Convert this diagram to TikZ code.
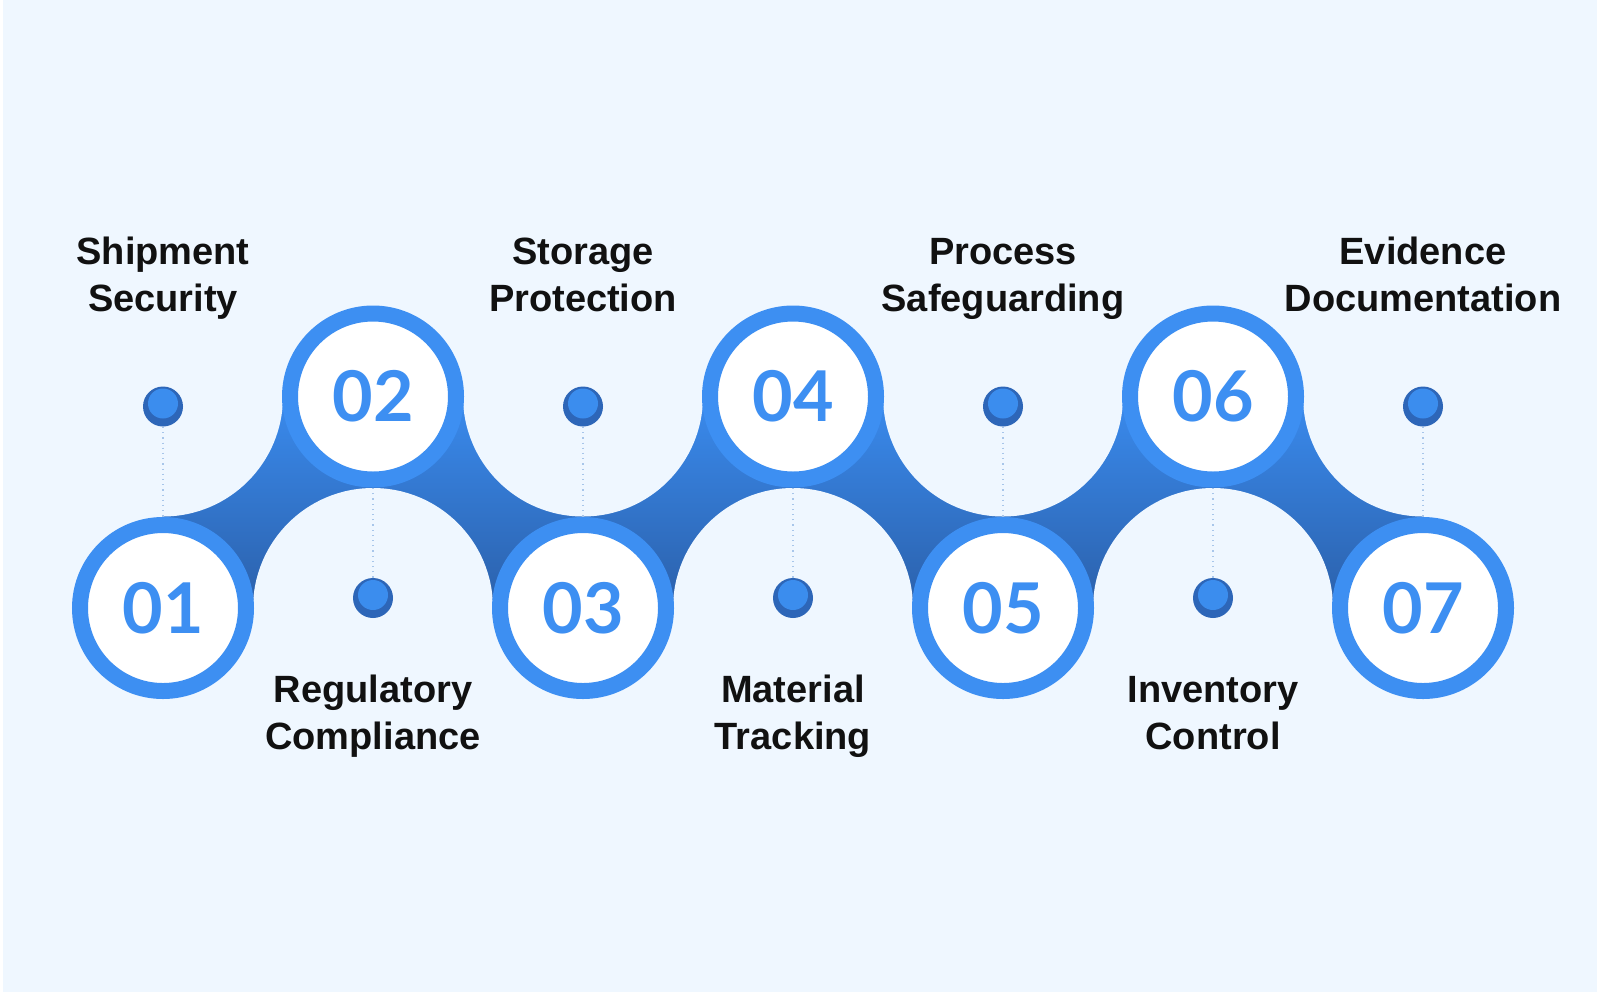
\documentclass[tikz,border=0pt]{standalone}
\usepackage{fontspec}
\setmainfont{Liberation Sans}
\newfontfamily\numfont{Lato}
\usepackage{tikz}
\definecolor{bgblue}{HTML}{EFF7FF}
\definecolor{ringblue}{HTML}{3D8FF2}
\definecolor{bandtop}{HTML}{3A8BEE}
\definecolor{bandbot}{HTML}{2B60AA}
\definecolor{dotdark}{HTML}{2D66B8}
\definecolor{dotlight}{HTML}{3B8DEE}
\definecolor{leaderblue}{HTML}{A8C6EA}
\definecolor{ink}{HTML}{111111}

\begin{document}
\begin{tikzpicture}[x=0.5pt,y=-0.5pt,
		stagering/.style={circle,draw=ringblue,line width=8pt,fill=white,minimum size=83pt,inner sep=0pt,text=ringblue,font=\numfont\bfseries\fontsize{35}{40}\selectfont},
		knob/.style={circle,fill=dotdark,minimum size=20pt,inner sep=0pt,path picture={\fill[dotlight] ([yshift=1.5pt]path picture bounding box.center) circle[radius=7.5pt];}},
		itemtext/.style={align=center,text=ink,text height=37.5pt,text depth=4.5pt,font=\fontsize{19}{23.5}\selectfont\bfseries},
		gapdisc/.style={fill=bgblue},
		leader/.style={draw=leaderblue,line width=0.6pt,dotted}]
					\useasboundingbox (0,0) rectangle (1600,992);
					\fill[white] (0,0) rectangle (1600,992);
					\fill[bgblue] (3,0) rectangle (1597,992);
					
					% band behind the circles
					\shade[top color=bandtop,bottom color=bandbot] (163,396.5) rectangle (1423,608);
					\path[gapdisc] (163,396.5) circle[radius=60pt];
					\path[gapdisc] (583,396.5) circle[radius=60pt];
					\path[gapdisc] (1003,396.5) circle[radius=60pt];
					\path[gapdisc] (1423,396.5) circle[radius=60pt];
					\path[gapdisc] (373,608) circle[radius=60pt];
					\path[gapdisc] (793,608) circle[radius=60pt];
					\path[gapdisc] (1213,608) circle[radius=60pt];
					
					\path (163,608) node[stagering] (c1) {01};
					\path (373,396.5) node[stagering] (c2) {02};
					\path (583,608) node[stagering] (c3) {03};
					\path (793,396.5) node[stagering] (c4) {04};
					\path (1003,608) node[stagering] (c5) {05};
					\path (1213,396.5) node[stagering] (c6) {06};
					\path (1423,608) node[stagering] (c7) {07};
					
					\path (163,406.5) node[knob] (d1) {};
					\path (373,598) node[knob] (d2) {};
					\path (583,406.5) node[knob] (d3) {};
					\path (793,598) node[knob] (d4) {};
					\path (1003,406.5) node[knob] (d5) {};
					\path (1213,598) node[knob] (d6) {};
					\path (1423,406.5) node[knob] (d7) {};
					
					\draw[leader] (d1.south) -- (c1.north);
					\draw[leader] (d2.north) -- (c2.south);
					\draw[leader] (d3.south) -- (c3.north);
					\draw[leader] (d4.north) -- (c4.south);
					\draw[leader] (d5.south) -- (c5.north);
					\draw[leader] (d6.north) -- (c6.south);
					\draw[leader] (d7.south) -- (c7.north);
					
					\path (163,278.5) node[itemtext] (t1) {Shipment\\Security};
					\path (373,716) node[itemtext] (t2) {Regulatory\\Compliance};
					\path (583,278.5) node[itemtext] (t3) {Storage\\Protection};
					\path (793,716) node[itemtext] (t4) {Material\\Tracking};
					\path (1003,278.5) node[itemtext] (t5) {Process\\Safeguarding};
					\path (1213,716) node[itemtext] (t6) {Inventory\\Control};
					\path (1423,278.5) node[itemtext] (t7) {Evidence\\Documentation};
					\end{tikzpicture}
\end{document}
